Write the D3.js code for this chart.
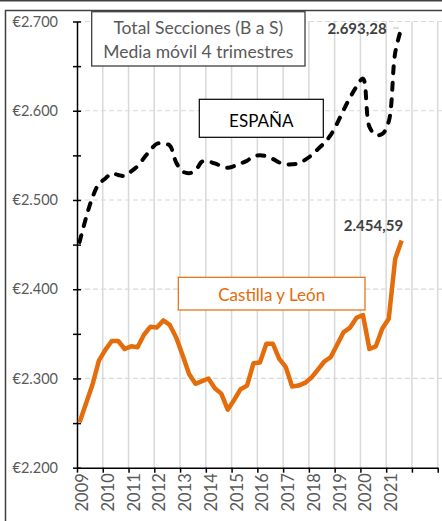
<!DOCTYPE html>
<html>
<head>
<meta charset="utf-8">
<script src="https://cdn.jsdelivr.net/npm/d3@7"></script>
<style>
  body { margin: 0; background: #fff; }
  text { font-family: Lato, "Open Sans", sans-serif; }
</style>
</head>
<body>
<div id="chart"></div>
<script>
// quarterly moving average (4 quarters), 2009 T1 .. 2021 T3
var espana = [
  2453, 2480, 2503, 2518, 2524, 2530, 2528, 2527, 2532, 2538,
  2547, 2556, 2563, 2563, 2561, 2542, 2532, 2530, 2533, 2543,
  2543, 2541, 2538, 2536, 2538, 2541, 2544, 2549, 2550, 2549,
  2546, 2542, 2540, 2540, 2541, 2545, 2550, 2557, 2564, 2573,
  2586, 2601, 2615, 2627, 2636, 2582, 2573, 2574, 2588, 2665,
  2693.28
];

var castilla = [
  2251, 2272, 2293, 2320, 2332, 2342, 2342, 2333, 2336, 2335,
  2349, 2358, 2357, 2365, 2360, 2346, 2326, 2305, 2294, 2297,
  2300, 2289, 2283, 2265, 2276, 2288, 2292, 2317, 2318, 2339,
  2339, 2322, 2313, 2291, 2292, 2295, 2301, 2310, 2319, 2324,
  2338, 2352, 2357, 2368, 2371, 2333, 2336, 2356, 2367, 2434,
  2454.59
];

var yearTicks = [2009, 2010, 2011, 2012, 2013, 2014, 2015, 2016, 2017, 2018, 2019, 2020, 2021, 2022, 2023];
var yearLabels = ["2009", "2010", "2011", "2012", "2013", "2014", "2015", "2016", "2017", "2018", "2019", "2020", "2021"];
var yMajor = [2200, 2300, 2400, 2500, 2600, 2700];
var yMinor = [2200, 2250, 2300, 2350, 2400, 2450, 2500, 2550, 2600, 2650, 2700];

var titleLines = ["Total Secciones (B a S)", "Media móvil 4 trimestres"];

var W = 442, H = 521;
var orange = "#E46C0A";

var svg = d3.select("#chart").append("svg")
    .attr("width", W)
    .attr("height", H);

// frame
svg.append("rect").attr("x", 0).attr("y", 0).attr("width", W).attr("height", 1.5).attr("fill", "#404040");
svg.append("rect")
    .attr("x", 5.5).attr("y", 10.5)
    .attr("width", 600).attr("height", 600)
    .attr("fill", "none").attr("stroke", "#404040").attr("stroke-width", 1.5);

var x = d3.scaleLinear().domain([2009, 2023]).range([77, 437.7]);
var y = d3.scaleLinear().domain([2200, 2700]).range([467.7, 21.5]);

// quarter i sits a bit after the year tick
function qx(i) { return x(2009.1 + i * 0.25); }

var fmt = d3.formatLocale({decimal: ",", thousands: ".", grouping: [3], currency: ["€", ""]});

// gridlines
svg.append("g").selectAll("line")
    .data(yearTicks.slice(1))
    .enter().append("line")
    .attr("x1", function(d) { return x(d); })
    .attr("x2", function(d) { return x(d); })
    .attr("y1", y(2700))
    .attr("y2", y(2200))
    .attr("stroke", "#d9d9d9")
    .attr("stroke-width", 1.5);

svg.append("g").selectAll("line")
    .data(yMajor.slice(1))
    .enter().append("line")
    .attr("x1", x(2009))
    .attr("x2", W)
    .attr("y1", function(d) { return y(d); })
    .attr("y2", function(d) { return y(d); })
    .attr("stroke", "#d9d9d9")
    .attr("stroke-width", 1.2)
    .attr("stroke-dasharray", "5,3");

// y axis
var yAxis = svg.append("g")
    .attr("transform", "translate(" + x(2009) + ",0)")
    .call(d3.axisLeft(y)
        .tickValues(yMinor)
        .tickSizeInner(4)
        .tickSizeOuter(0)
        .tickPadding(15)
        .tickFormat(function(d) { return yMajor.indexOf(d) >= 0 ? fmt.format("$,")(d) : ""; }));
yAxis.select(".domain").attr("stroke", "#000").attr("stroke-width", 1.5);
yAxis.selectAll(".tick line").attr("x1", 4).attr("stroke", "#000").attr("stroke-width", 1.5);
yAxis.selectAll("text")
    .attr("fill", "#595959")
    .style("font-size", "14.5px");

// x axis
var xAxis = svg.append("g")
    .attr("transform", "translate(0," + y(2200) + ")")
    .call(d3.axisBottom(x)
        .tickValues(yearTicks)
        .tickSizeInner(5)
        .tickSizeOuter(0)
        .tickFormat(function(d, i) { return yearLabels[i] || ""; }));
xAxis.select(".domain").attr("stroke", "#000").attr("stroke-width", 1.5);
xAxis.selectAll(".tick line").attr("stroke", "#000").attr("stroke-width", 1.5);
xAxis.selectAll("text")
    .attr("transform", "rotate(-90)")
    .attr("x", -5.5)
    .attr("y", 10.5)
    .attr("dy", null)
    .attr("fill", "#595959")
    .style("text-anchor", "end")
    .style("font-size", "16.5px");

// lines
var lineSmooth = d3.line()
    .x(function(d, i) { return qx(i); })
    .y(function(d) { return y(d); })
    .curve(d3.curveCatmullRom.alpha(0.5));

var lineStraight = d3.line()
    .x(function(d, i) { return qx(i); })
    .y(function(d) { return y(d); });

svg.append("path")
    .datum(castilla)
    .attr("d", lineStraight)
    .attr("fill", "none")
    .attr("stroke", orange)
    .attr("stroke-width", 4.5)
    .attr("stroke-linejoin", "round");

svg.append("path")
    .datum(espana)
    .attr("d", lineSmooth)
    .attr("fill", "none")
    .attr("stroke", "#000")
    .attr("stroke-width", 4)
    .attr("stroke-linecap", "round")
    .attr("stroke-dasharray", "7,9.5");

// value labels on the last points
var last = espana.length - 1;
svg.append("line")
    .attr("x1", 393).attr("x2", 399)
    .attr("y1", 28).attr("y2", 28)
    .attr("stroke", "#bfbfbf").attr("stroke-width", 1);
svg.append("text")
    .attr("x", 386.7).attr("y", 34)
    .attr("text-anchor", "end")
    .attr("font-weight", "bold")
    .attr("fill", "#404040")
    .style("font-size", "15px")
    .text(fmt.format(",.2f")(espana[last]));
svg.append("text")
    .attr("x", qx(last) + 1.5).attr("y", 230.5)
    .attr("text-anchor", "end")
    .attr("font-weight", "bold")
    .attr("fill", "#404040")
    .style("font-size", "15px")
    .text(fmt.format(",.2f")(castilla[last]));

// title box
svg.append("rect")
    .attr("x", 91.7).attr("y", 11.7).attr("width", 213.3).attr("height", 54.3)
    .attr("fill", "#fff").attr("stroke", "#404040").attr("stroke-width", 1.3);
svg.append("g").selectAll("text")
    .data(titleLines)
    .enter().append("text")
    .attr("x", 198.3)
    .attr("y", function(d, i) { return 33.8 + i * 24; })
    .attr("text-anchor", "middle")
    .attr("fill", "#595959")
    .style("font-size", "17.5px")
    .text(function(d) { return d; });

// series name boxes
svg.append("rect")
    .attr("x", 199.3).attr("y", 99.3).attr("width", 124).attr("height", 38)
    .attr("fill", "#fff").attr("stroke", "#000").attr("stroke-width", 1.2);
svg.append("text")
    .attr("x", 261.3).attr("y", 126.7)
    .attr("text-anchor", "middle")
    .attr("fill", "#000")
    .style("font-size", "17px")
    .text("ESPAÑA");

svg.append("rect")
    .attr("x", 178.3).attr("y", 277.3).attr("width", 186.7).attr("height", 32.7)
    .attr("fill", "#fff").attr("stroke", orange).attr("stroke-width", 1.2);
svg.append("text")
    .attr("x", 271.7).attr("y", 300.7)
    .attr("text-anchor", "middle")
    .attr("fill", orange)
    .style("font-size", "17px")
    .text("Castilla y León");
</script>
</body>
</html>
